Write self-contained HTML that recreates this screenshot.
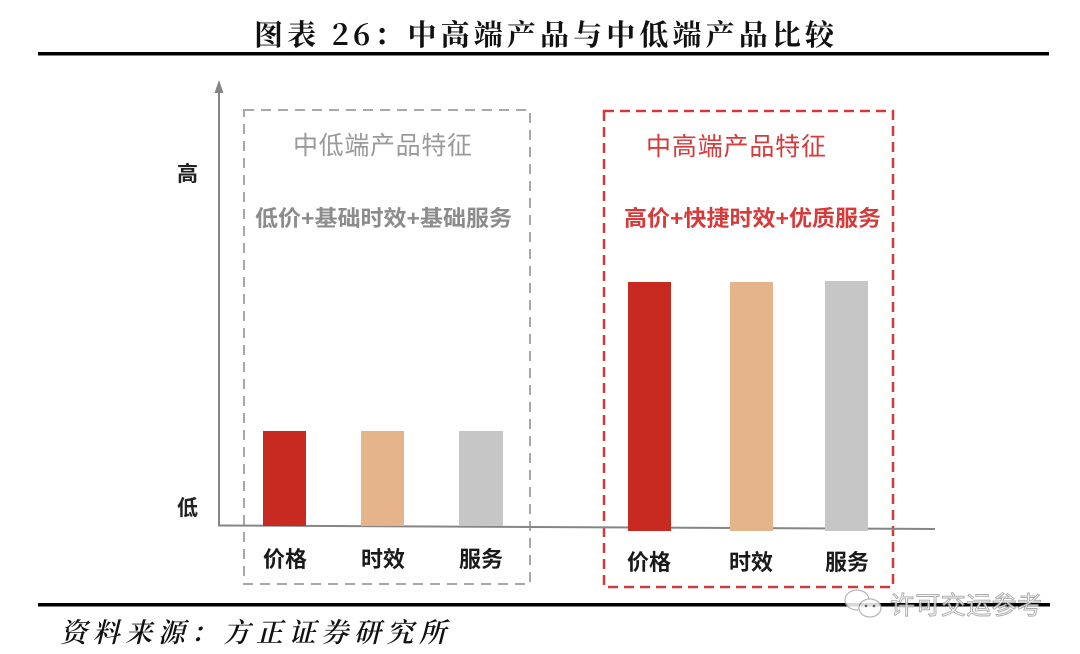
<!DOCTYPE html>
<html>
<head>
<meta charset="utf-8">
<style>
  html,body{margin:0;padding:0;background:#fff;}
  body{width:1080px;height:654px;overflow:hidden;}
  svg{display:block;}
  text{font-family:"Liberation Sans","Noto Sans CJK SC",sans-serif;}
</style>
</head>
<body>
<svg width="1080" height="654" viewBox="0 0 1080 654" xmlns="http://www.w3.org/2000/svg">
  <rect width="1080" height="654" fill="#fff"/>

  <!-- Title -->
  <text x="254" y="45" font-size="29" font-weight="bold" fill="#111" textLength="580" lengthAdjust="spacing" style="font-family:'Noto Serif CJK SC','Liberation Serif',serif;">图表 26：中高端产品与中低端产品比较</text>
  <rect x="38" y="52" width="1011" height="3.5" fill="#000"/>

  <!-- Dashed boxes -->
  <rect x="244" y="110" width="286" height="474" fill="none" stroke="#a8a8a8" stroke-width="2" stroke-dasharray="10,7"/>
  <rect x="604" y="111" width="289" height="476" fill="none" stroke="#d23a3a" stroke-width="2.5" stroke-dasharray="10,6"/>

  <!-- Axes -->
  <line x1="219" y1="90" x2="219" y2="526" stroke="#858585" stroke-width="2"/>
  <polygon points="219,80 214.5,93 223.5,93" fill="#858585"/>
  <line x1="218" y1="525.5" x2="935" y2="529" stroke="#858585" stroke-width="2"/>

  <!-- Axis labels -->
  <text x="177" y="181" font-size="21" font-weight="bold" fill="#222">高</text>
  <text x="177" y="515" font-size="21" font-weight="bold" fill="#222">低</text>

  <!-- Left bars -->
  <rect x="263" y="431" width="43" height="95" fill="#c82a22"/>
  <rect x="361" y="431" width="43" height="95" fill="#e6b48a"/>
  <rect x="459" y="431" width="44" height="95" fill="#c6c6c6"/>

  <!-- Right bars -->
  <rect x="628" y="282" width="43" height="249" fill="#c82a22"/>
  <rect x="730" y="282" width="43" height="249" fill="#e6b48a"/>
  <rect x="825" y="281" width="43" height="250" fill="#c6c6c6"/>

  <!-- Box headings -->
  <text x="293" y="154" font-size="25" fill="#9a9a9a" textLength="179" lengthAdjust="spacing">中低端产品特征</text>
  <text x="255" y="226" font-size="22" font-weight="bold" fill="#8c8c8c" textLength="257" lengthAdjust="spacingAndGlyphs">低价+基础时效+基础服务</text>

  <text x="646" y="155" font-size="25" fill="#d63b3b" textLength="180" lengthAdjust="spacing">中高端产品特征</text>
  <text x="624" y="226" font-size="22" font-weight="bold" fill="#d63b3b" textLength="257" lengthAdjust="spacingAndGlyphs">高价+快捷时效+优质服务</text>

  <!-- Category labels -->
  <g font-size="22" font-weight="bold" fill="#1a1a1a" text-anchor="middle">
    <text x="285" y="567">价格</text>
    <text x="383" y="567">时效</text>
    <text x="481" y="567">服务</text>
    <text x="649" y="570">价格</text>
    <text x="751" y="570">时效</text>
    <text x="847" y="570">服务</text>
  </g>

  <!-- Bottom rule -->
  <rect x="38" y="603" width="1012" height="3.5" fill="#000"/>

  <!-- Watermark -->
  <g opacity="0.85">
    <ellipse cx="857" cy="600" rx="12" ry="10" fill="#fff" stroke="#aaa" stroke-width="1.2"/>
    <ellipse cx="870" cy="608" rx="11" ry="9" fill="#fff" stroke="#aaa" stroke-width="1.2"/>
    <circle cx="866" cy="606" r="1.3" fill="#666"/>
    <circle cx="874" cy="606" r="1.3" fill="#666"/>
    <text x="890" y="614" font-size="25" fill="#fff" stroke="#999" stroke-width="0.9" textLength="152" lengthAdjust="spacing">许可交运参考</text>
  </g>

  <!-- Source -->
  <text x="60" y="642" font-size="27" font-style="italic" font-weight="600" fill="#111" textLength="386" lengthAdjust="spacing" style="font-family:'Noto Serif CJK SC','Liberation Serif',serif;">资料来源：方正证券研究所</text>
</svg>
</body>
</html>
